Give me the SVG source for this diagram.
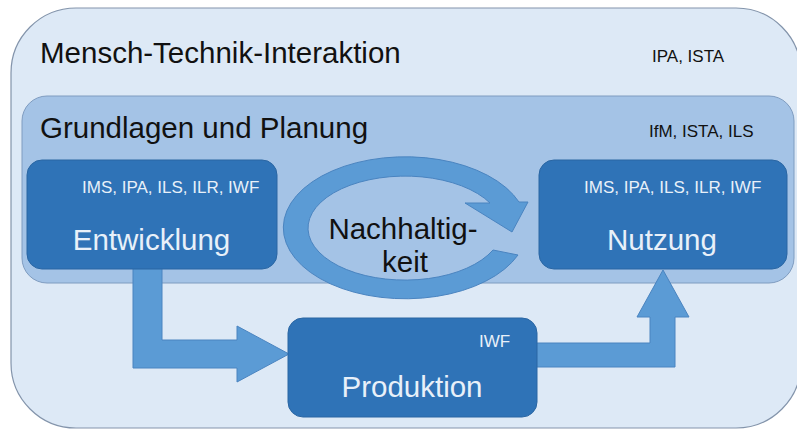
<svg xmlns="http://www.w3.org/2000/svg" width="797" height="430" viewBox="0 0 797 430">
<style>
.big{font-family:"Liberation Sans",Arial,sans-serif;font-size:29.5px;fill:#111}
.sm{font-family:"Liberation Sans",Arial,sans-serif;font-size:17px;fill:#111}
.wbig{font-family:"Liberation Sans",Arial,sans-serif;font-size:29.5px;fill:#e8f0f9}
.wsm{font-family:"Liberation Sans",Arial,sans-serif;font-size:17px;fill:#e8f0f9}
.box{fill:#2f73b7;stroke:#2a66a3;stroke-width:1}
.arrow{fill:#5b9bd5;stroke:#4a84c0;stroke-width:1}
</style>
<rect width="797" height="430" fill="#ffffff"/>
<g id="mensch-technik-interaktion">
<rect x="11" y="8" width="790" height="420" rx="65" ry="65" fill="#dde9f6" stroke="#8394ab" stroke-width="1.2"/>
<text class="big" x="40" y="63">Mensch-Technik-Interaktion</text>
<text class="sm" x="652" y="62">IPA, ISTA</text>
</g>
<g id="grundlagen-und-planung">
<rect x="22" y="96" width="772" height="187" rx="25" ry="25" fill="#a4c3e6" stroke="#7f9cc0" stroke-width="1"/>
<text class="big" x="40" y="138">Grundlagen und Planung</text>
<text class="sm" x="649" y="137">IfM, ISTA, ILS</text>
</g>
<g id="connectors">
<path class="arrow" d="M133,262 L162,262 L162,340 L237,340 L237,326 L289,354 L237,382 L237,368 L133,368 Z"/>
<path class="arrow" d="M530,343 L650,343 L650,317 L637,317 L663,270 L689,317 L675,317 L675,367 L530,367 Z"/>
</g>
<g id="nachhaltigkeit">
<path class="arrow" d="M465,203 L512,232 L528,202 L519,202 A122,71 0 1 0 518,255 L493,250 A97,52 0 1 1 490,203 Z"/>
<text class="big" x="403" y="239" text-anchor="middle">Nachhaltig-</text>
<text class="big" x="405" y="272" text-anchor="middle">keit</text>
</g>
<g id="entwicklung">
<rect class="box" x="27" y="160" width="250" height="109" rx="15" ry="15"/>
<text class="wsm" x="82" y="193">IMS, IPA, ILS, ILR, IWF</text>
<text class="wbig" x="151.5" y="250" text-anchor="middle">Entwicklung</text>
</g>
<g id="nutzung">
<rect class="box" x="539" y="160" width="248" height="109" rx="15" ry="15"/>
<text class="wsm" x="584" y="193">IMS, IPA, ILS, ILR, IWF</text>
<text class="wbig" x="662" y="250" text-anchor="middle">Nutzung</text>
</g>
<g id="produktion">
<rect class="box" x="288" y="318" width="249" height="99" rx="15" ry="15"/>
<text class="wsm" x="479" y="347">IWF</text>
<text class="wbig" x="412" y="397" text-anchor="middle">Produktion</text>
</g>
</svg>
